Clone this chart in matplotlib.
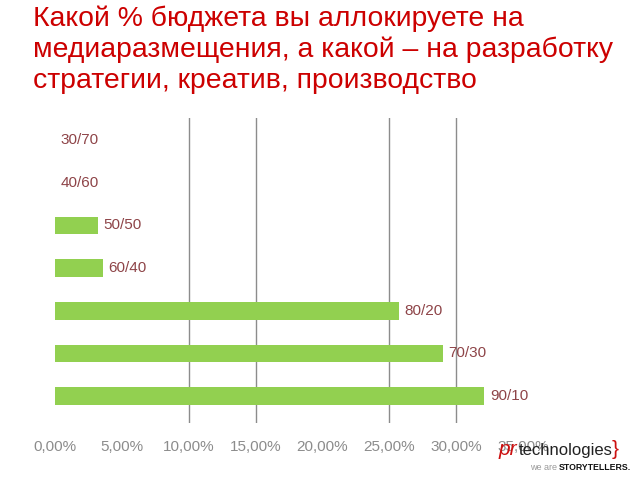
import numpy as np
import matplotlib
matplotlib.use("Agg")
import matplotlib.pyplot as plt

plt.rcParams['font.family'] = ['Liberation Sans', 'DejaVu Sans']

# data (top to bottom)
categories = ["30/70", "40/60", "50/50", "60/40", "80/20", "70/30", "90/10"]
values = [0.0, 0.0, 3.2, 3.6, 25.7, 29.0, 32.1]
xticks = [0, 5, 10, 15, 20, 25, 30, 35]
xticklabels = ["0,00%", "5,00%", "10,00%", "15,00%", "20,00%", "25,00%", "30,00%", "35,00%"]
gridlines = [10, 15, 25, 30]

title = "Какой % бюджета вы аллокируете на\nмедиаразмещения, а какой – на разработку\nстратегии, креатив, производство"

fig = plt.figure(figsize=(6.4, 4.8), dpi=100)
ax = fig.add_axes([55 / 640, 1 - 423 / 480, 468 / 640, 305 / 480])

y = np.arange(len(categories))
ax.barh(y, values, height=0.41, color="#92D050", zorder=3)
for yi, v, lab in zip(y, values, categories):
    ax.annotate(lab, (v, yi), xytext=(4, 0), textcoords="offset points",
                va="center", ha="left", fontsize=11, color="#8E4448", zorder=4)

for g in gridlines:
    ax.axvline(g, color="#8c8c8c", lw=1.0, zorder=1)

ax.set_xlim(0, 35)
ax.set_ylim(6.63, -0.52)
ax.set_xticks(xticks)
ax.set_xticklabels(xticklabels, fontsize=11, color="#8c8c8c")
ax.tick_params(axis="x", length=0, pad=12)
ax.set_yticks([])
for s in ax.spines.values():
    s.set_visible(False)

fig.text(33 / 640, 1 - 5 / 480, title, ha="left", va="top", fontsize=20.4,
         color="#CC0000", linespacing=1.24)

# logo
fig.text(499 / 640, 1 - 455 / 480, "pr", fontsize=15, color="#CC1111",
         style="italic", ha="left", va="baseline", zorder=5)
fig.text(519 / 640, 1 - 455 / 480, "technologies", fontsize=12, color="#222222",
         ha="left", va="baseline", zorder=5)
fig.text(612 / 640, 1 - 455 / 480, "}", fontsize=15, color="#CC1111",
         ha="left", va="baseline", zorder=5)
fig.text(557 / 640, 1 - 470 / 480, "we are", fontsize=6.5, color="#999999",
         ha="right", va="baseline")
fig.text(559 / 640, 1 - 470 / 480, "STORYTELLERS.", fontsize=6.3, color="#111111",
         weight="bold", ha="left", va="baseline")

fig.savefig("out.png", dpi=100)
